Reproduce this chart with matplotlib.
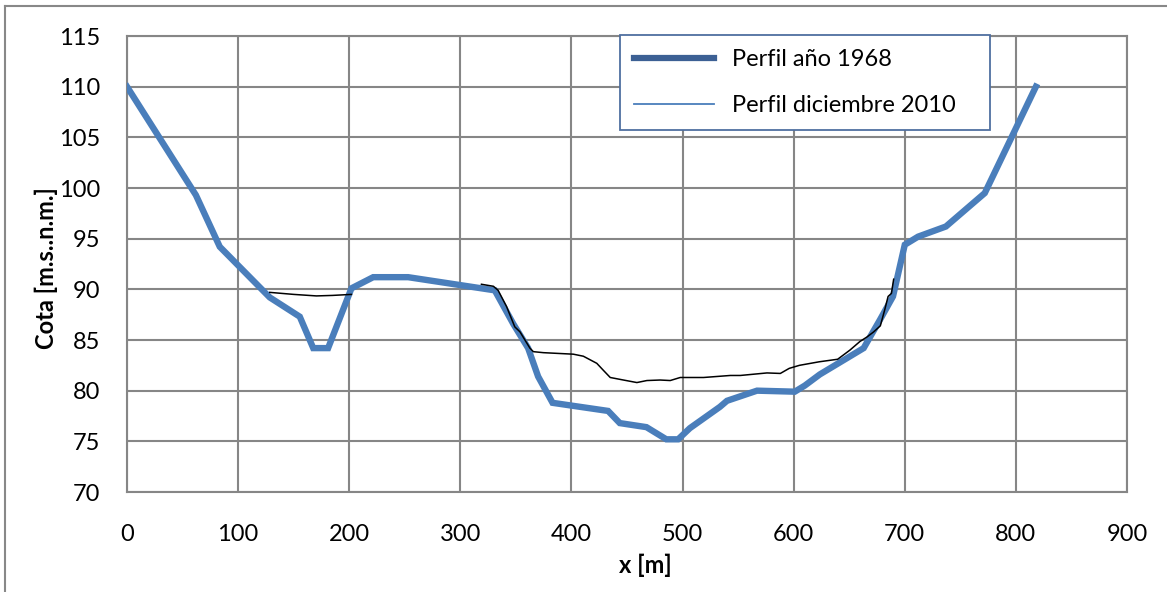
import matplotlib
matplotlib.use("Agg")
import matplotlib.pyplot as plt
from matplotlib.lines import Line2D

plt.rcParams['font.family'] = ['Lato', 'DejaVu Sans']

# Perfil año 1968 (thick blue)
x_1968 = [0, 62, 83.5, 128.5, 155.5, 167.6, 181, 202, 221.6, 253, 331, 347.6, 361, 370,
          383, 433, 443.5, 467.5, 485.4, 496, 506.6, 533.6, 540, 567, 601, 610, 623.5,
          663, 677.7, 689.4, 700, 712, 737, 772, 818]
y_1968 = [110, 99.3, 94.2, 89.2, 87.3, 84.2, 84.2, 90.1, 91.2, 91.2, 89.9, 86.6, 84.2, 81.4,
          78.8, 78.0, 76.8, 76.4, 75.2, 75.2, 76.3, 78.4, 79.0, 80.0, 79.9, 80.5, 81.6,
          84.2, 87.0, 89.3, 94.4, 95.2, 96.2, 99.5, 110]

# Perfil diciembre 2010 (thin black), two segments
x_2010_a = [128.5, 150, 170.5, 185, 202]
y_2010_a = [89.7, 89.5, 89.35, 89.4, 89.5]

x_2010_b = [319, 329.8, 334, 341.6, 349, 353.7, 362.6, 365.7, 374.7, 401.7, 410.7, 422.8,
            428.8, 434.9, 446.8, 458.9, 467.9, 479.8, 488.9, 497.9, 518.9, 543, 552, 576,
            588, 596, 605.2, 623, 639.6, 650.6, 659.6, 666, 672, 678, 682, 685, 688, 690]
y_2010_b = [90.5, 90.3, 89.9, 88.3, 86.3, 85.8, 84.2, 83.85, 83.75, 83.6, 83.4, 82.7,
            82.0, 81.3, 81.05, 80.8, 81.0, 81.05, 81.0, 81.3, 81.3, 81.5, 81.5, 81.75,
            81.7, 82.2, 82.5, 82.85, 83.1, 84.0, 84.85, 85.3, 85.8, 86.4, 88.0, 89.3, 89.6, 91.0]

x_ticks = list(range(0, 901, 100))
y_ticks = list(range(70, 116, 5))

W, H = 1167, 592
fig = plt.figure(figsize=(W / 100, H / 100), dpi=100)
ax = fig.add_axes([127 / W, 1 - 492 / H, 1000 / W, 456 / H])

blue = '#4A7EBB'
ax.plot(x_1968, y_1968, color=blue, lw=4.6, solid_joinstyle='miter', zorder=3)
ax.plot(x_2010_a, y_2010_a, color='black', lw=1.1, zorder=4)
ax.plot(x_2010_b, y_2010_b, color='black', lw=1.1, zorder=4)

ax.set_xlim(0, 900)
ax.set_ylim(70, 115)
ax.set_xticks(x_ticks)
ax.set_yticks(y_ticks)
ax.grid(True, color='#868686', lw=1.5)
ax.set_axisbelow(True)
for s in ax.spines.values():
    s.set_color('#868686')
    s.set_linewidth(1.5)
ax.tick_params(axis='both', length=0, labelsize=17)
ax.tick_params(axis='y', pad=19)
ax.tick_params(axis='x', pad=23)

ax.set_ylabel('Cota [m.s..n.m.]', fontsize=17, fontweight='bold')
ax.yaxis.set_label_coords(-(127 - 58) / 1000, (492 - 268) / 456)
ax.set_xlabel('x [m]', fontsize=17, fontweight='bold')
ax.xaxis.set_label_coords(518 / 1000, -(554 - 492) / 456)

handles = [Line2D([], [], color='#3C6094', lw=4.5),
           Line2D([], [], color='#4A7EBB', lw=1.3)]
leg = fig.legend(handles, ['Perfil año 1968', 'Perfil diciembre 2010'],
                 loc='upper left',
                 bbox_to_anchor=(620 / W, 1 - 35 / H, 370 / W, 0.0),
                 mode='expand', borderaxespad=0, fontsize=17,
                 handlelength=3.4, handletextpad=0.75, labelspacing=1.05,
                 borderpad=0.6, fancybox=False, framealpha=1)
leg.get_frame().set_edgecolor('#4F6FA0')
leg.get_frame().set_linewidth(1.3)

# outer chart border (left and top visible)
fig.add_artist(Line2D([5 / W, 5 / W], [0, 1 - 6 / H], color='#888888', lw=1.5,
                      transform=fig.transFigure))
fig.add_artist(Line2D([5 / W, 1], [1 - 6 / H, 1 - 6 / H], color='#888888', lw=1.5,
                      transform=fig.transFigure))

fig.savefig('out.png', dpi=100)
